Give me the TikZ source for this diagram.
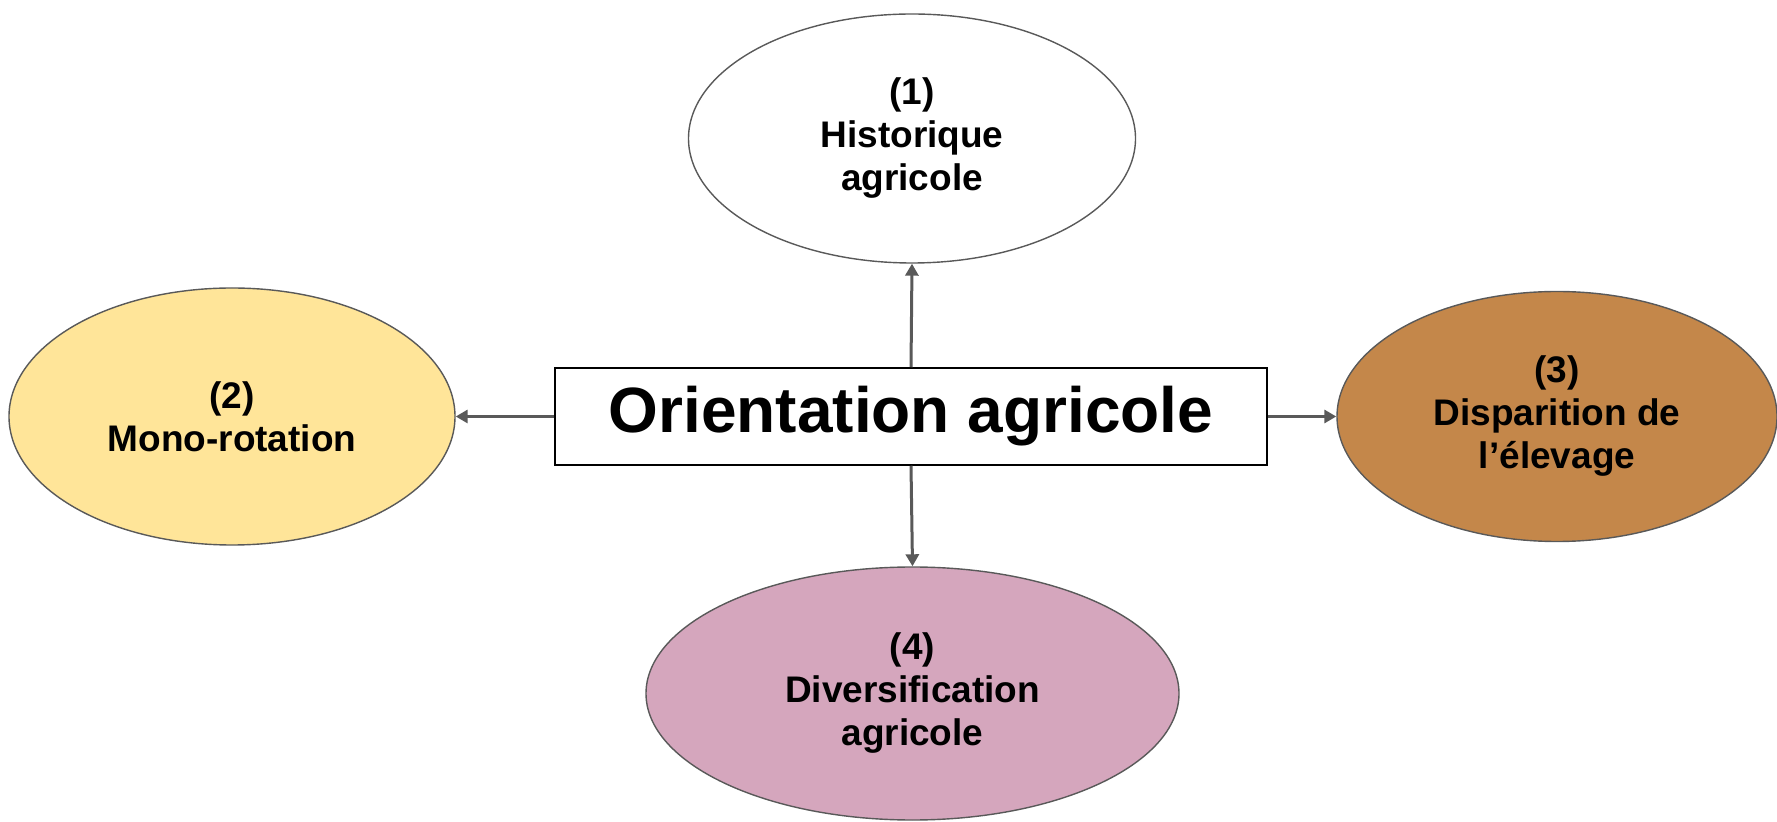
\documentclass[tikz,border=0pt]{standalone}
\usepackage{fontspec}
\setmainfont{Liberation Sans}
\usetikzlibrary{shapes.geometric,arrows.meta}
\definecolor{edgegray}{HTML}{595959}
\definecolor{yellowfill}{HTML}{FFE599}
\definecolor{brownfill}{HTML}{C4874A}
\definecolor{pinkfill}{HTML}{D5A6BD}
\tikzset{
  bubble/.style={ellipse, draw=edgegray, line width=0.7pt, inner sep=0pt, align=center,
    font=\bfseries\fontsize{18.5}{21.5}\selectfont},
  mainbox/.style={rectangle, draw=black, line width=0.75pt, fill=white, inner sep=0pt,
    minimum width=356pt, minimum height=48.5pt, font=\bfseries\fontsize{32}{38}\selectfont},
  link/.style={draw=edgegray, line width=1.5pt, -{Triangle[length=6pt,width=6.5pt]}}
}
\begin{document}
\begin{tikzpicture}[x=0.5pt,y=-0.5pt]
\useasboundingbox (0,0) rectangle (1777,822);
\node[mainbox] (center) at (911,416.5) {Orientation agricole};
\node[bubble, fill=white, minimum width=223.5pt, minimum height=124.5pt] (e1) at (912,138.5) {(1)\\Historique\\agricole};
\node[bubble, fill=yellowfill, minimum width=223pt, minimum height=128.5pt] (e2) at (232,416.5) {(2)\\Mono-rotation};
\node[bubble, fill=brownfill, minimum width=220pt, minimum height=125pt] (e3) at (1557,416.5) {(3)\\Disparition de\\l’élevage};
\node[bubble, fill=pinkfill, minimum width=266.5pt, minimum height=126.5pt] (e4) at (912.5,693.5) {(4)\\Diversification\\agricole};
\draw[link] (center.north) -- (e1.south);
\draw[link] (center.west) -- (e2.east);
\draw[link] (center.east) -- (e3.west);
\draw[link] (center.south) -- (e4.north);
\end{tikzpicture}
\end{document}
